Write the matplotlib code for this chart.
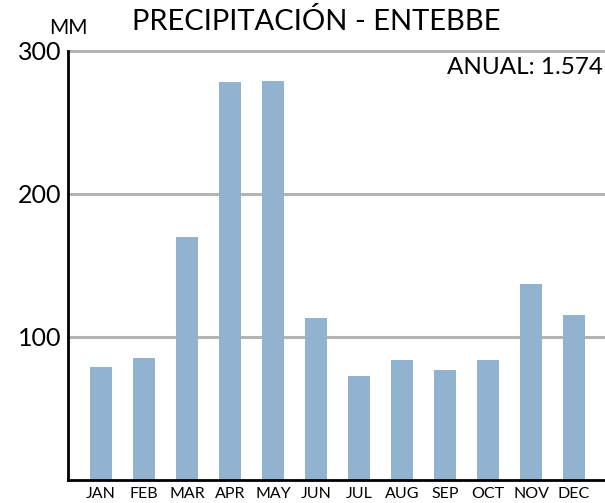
import matplotlib
matplotlib.use('Agg')
import matplotlib.pyplot as plt

months = ['JAN', 'FEB', 'MAR', 'APR', 'MAY', 'JUN', 'JUL', 'AUG', 'SEP', 'OCT', 'NOV', 'DEC']
precip = [79, 85, 170, 278, 279, 113, 73, 84, 77, 84, 137, 115]
yTicks = [100, 200, 300]

barColor = '#92b3cf'
gridColor = '#b4b4b4'
fontName = 'Lato'

plt.rcParams['font.family'] = [fontName, 'DejaVu Sans']

fig = plt.figure(figsize=(6.05, 5.03), dpi=100)
ax = fig.add_axes([68 / 605, 1 - 480 / 503, 1 - 68 / 605, (480 - 50.7) / 503])

xs = list(range(len(months)))
ax.bar(xs, precip, width=0.51, color=barColor, zorder=3)

ax.set_xlim(-0.77, 11.72)
ax.set_ylim(0, 300)
ax.set_yticks(yTicks)
ax.set_yticklabels([str(t) for t in yTicks], fontsize=18)
ax.set_xticks(xs)
ax.set_xticklabels(months, fontsize=11.5)

ax.yaxis.grid(True, color=gridColor, linewidth=2.2)
for line in ax.get_ygridlines():
    line.set_clip_on(False)
ax.set_axisbelow(True)

ax.tick_params(axis='both', length=0)
ax.tick_params(axis='y', pad=5)
ax.tick_params(axis='x', pad=5)

for side in ['top', 'right']:
    ax.spines[side].set_visible(False)
for side in ['left', 'bottom']:
    ax.spines[side].set_linewidth(2)
    ax.spines[side].set_color('black')
    ax.spines[side].set_zorder(4)

fig.text(316 / 605, 1 - 21 / 503, 'PRECIPITACIÓN - ENTEBBE', fontsize=21,
         ha='center', va='center')
fig.text(68 / 605, 1 - 28 / 503, 'MM', fontsize=15, ha='center', va='center')
fig.text(603 / 605, 1 - 68 / 503, 'ANUAL: 1.574', fontsize=17.5, ha='right', va='center')

fig.savefig('out.png', dpi=100)
